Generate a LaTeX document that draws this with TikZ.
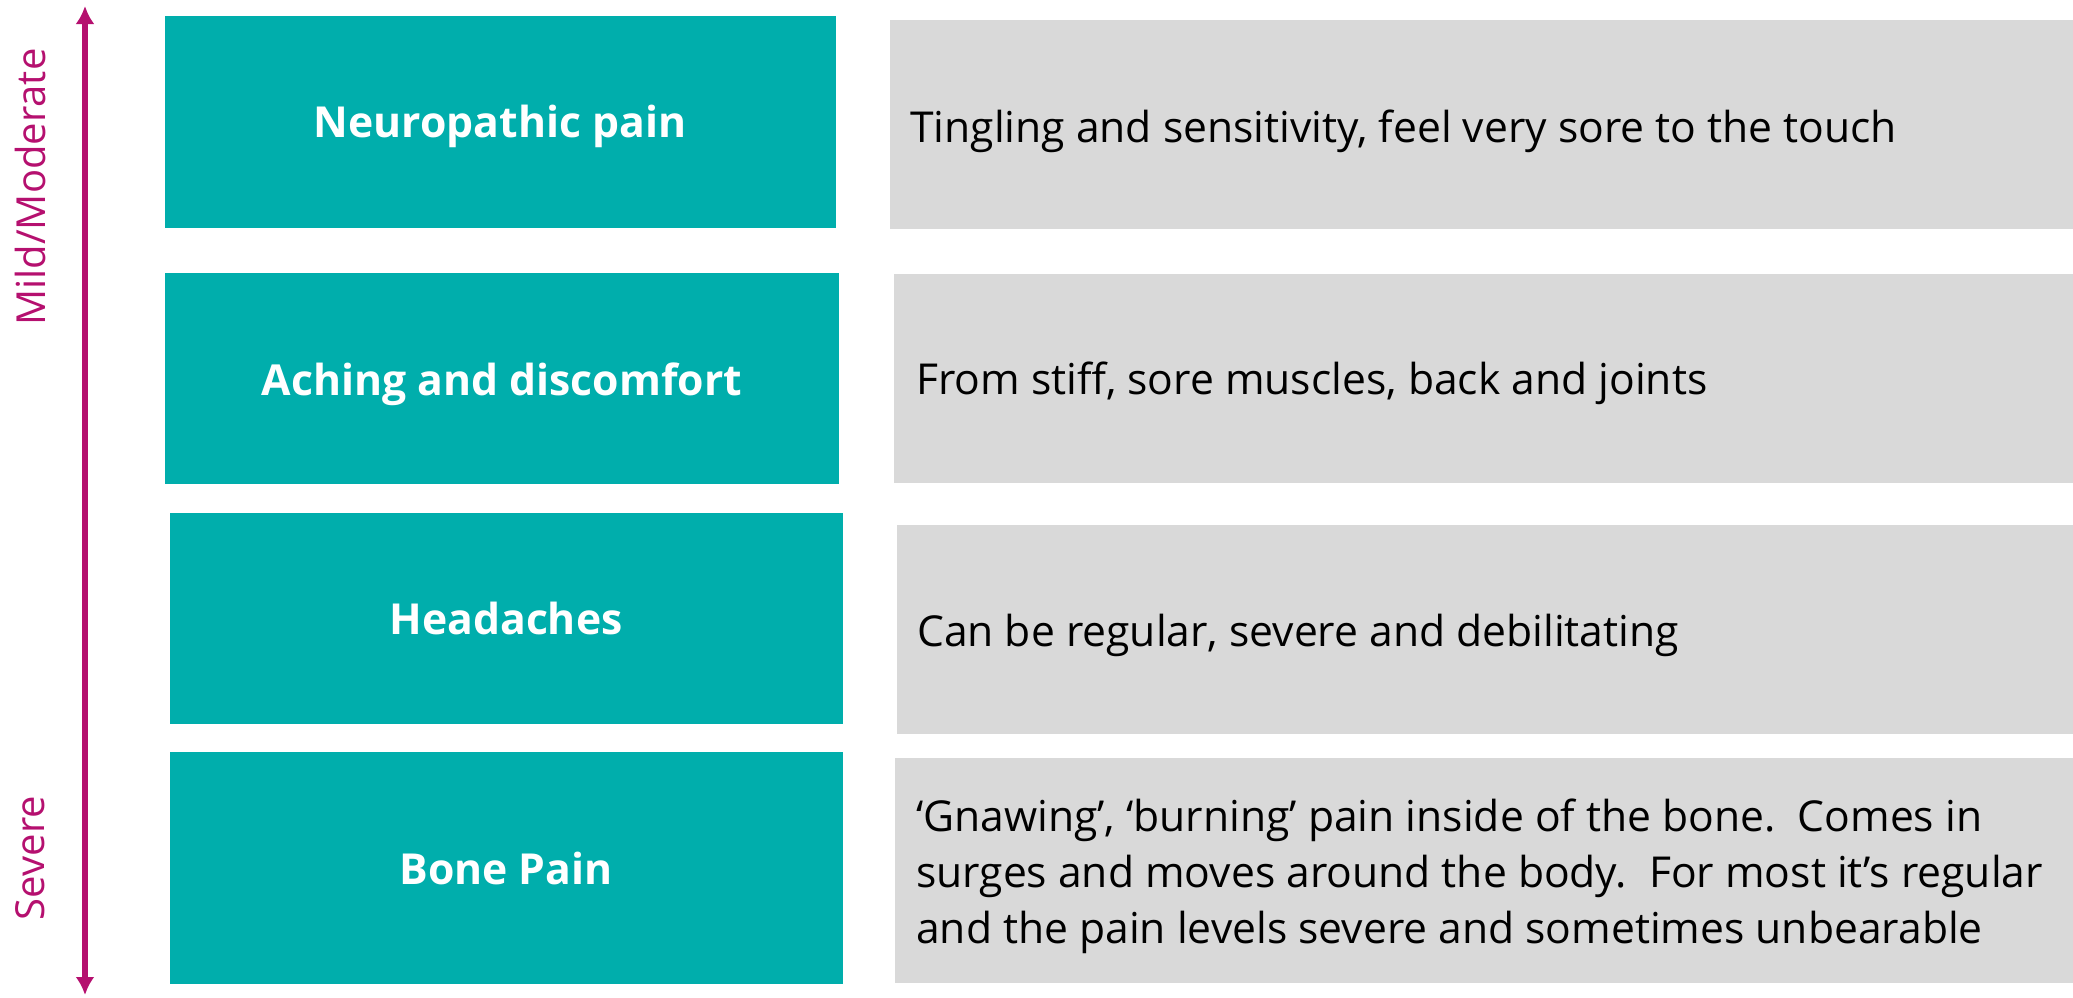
\documentclass[tikz,border=0pt]{standalone}
\usepackage{fontspec}
\setmainfont{Open Sans}
\usetikzlibrary{arrows.meta}
\definecolor{tealc}{RGB}{0,174,172}
\definecolor{greyc}{RGB}{217,217,217}
\definecolor{magc}{RGB}{181,16,111}
\tikzset{
  tealbox/.style={fill=tealc, draw=none, inner sep=0pt},
  greybox/.style={fill=greyc, draw=none, inner sep=0pt},
  tlabel/.style={text=white, font=\fontsize{42.7}{50}\selectfont\bfseries, inner sep=0pt, anchor=base},
  glabel/.style={text=black, font=\fontsize{42.6}{56}\selectfont, inner sep=0pt, anchor=base west},
  scalelabel/.style={text=magc, font=\fontsize{40}{48}\selectfont, inner sep=0pt, rotate=90},
  scalearrow/.style={draw=magc, line width=5.5pt, {Latex[length=18pt,width=19pt]}-{Latex[length=18pt,width=19pt]}}
}
\begin{document}
\begin{tikzpicture}[x=1pt,y=-1pt]
\useasboundingbox (0,0) rectangle (2073,997);
% teal boxes
\path[tealbox] (165,16) rectangle (836,228);
\node[tlabel] (t1) at (500,137) {Neuropathic pain};
\path[tealbox] (165,273) rectangle (839,484);
\node[tlabel] (t2) at (502,395) {Aching and discomfort};
\path[tealbox] (170,513) rectangle (843,724);
\node[tlabel] (t3) at (506,634) {Headaches};
\path[tealbox] (170,752) rectangle (843,984);
\node[tlabel] (t4) at (506,884) {Bone Pain};
% grey boxes
\path[greybox] (890,20) rectangle (2073,229);
\node[glabel] (g1) at (910,142) {Tingling and sensitivity, feel very sore to the touch};
\path[greybox] (894,274) rectangle (2073,483);
\node[glabel] (g2) at (916,394) {From stiff, sore muscles, back and joints};
\path[greybox] (897,525) rectangle (2073,734);
\node[glabel] (g3) at (917,646) {Can be regular, severe and debilitating};
\path[greybox] (895,758) rectangle (2073,983);
\node[glabel] (g4a) at (916,831) {‘Gnawing’, ‘burning’ pain inside of the bone.\ \ Comes in};
\node[glabel] (g4b) at (916,887) {surges and moves around the body.\ \ For most it’s regular};
\node[glabel] (g4c) at (916,943) {and the pain levels severe and sometimes unbearable};
% scale arrow
\coordinate (top) at (85,6);
\coordinate (bot) at (85,995);
\draw[scalearrow] (top) -- (bot);
\node[scalelabel] (mild) at (30,187) {Mild/Moderate};
\node[scalelabel] (sev) at (30,858) {Severe};
\end{tikzpicture}
\end{document}
